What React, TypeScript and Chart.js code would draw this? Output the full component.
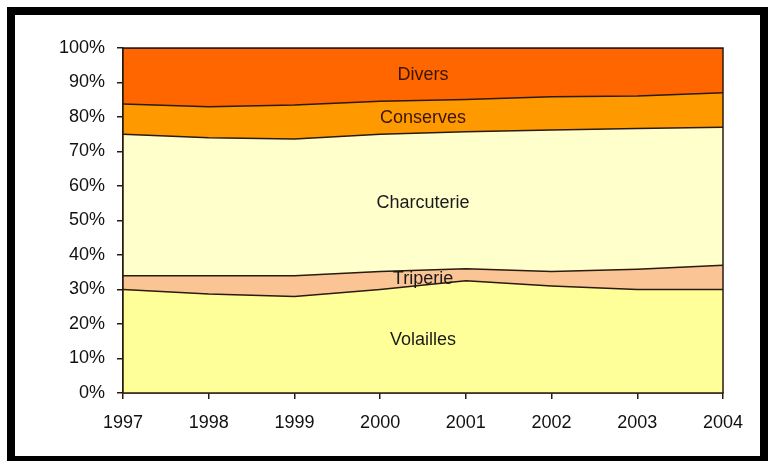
import React, { useEffect, useRef } from "react";
import { Chart, registerables } from "chart.js";

Chart.register(...registerables);

const years = ["1997", "1998", "1999", "2000", "2001", "2002", "2003", "2004"];
const seriesNames = ["Volailles", "Triperie", "Charcuterie", "Conserves", "Divers"];
const volailles = [30, 28.7, 28, 30, 32.5, 31, 30, 30];
const triperie = [4, 5.3, 6, 5.2, 3.5, 4.2, 5.9, 7];
const charcuterie = [41, 40, 39.6, 39.8, 39.7, 41, 40.8, 40];
const conserves = [8.8, 9, 9.9, 9.6, 9.4, 9.7, 9.4, 10];
const divers = [16.2, 17, 16.5, 15.4, 14.9, 14.1, 13.9, 13];
const seriesColors = ["#FFFF99", "#FAC495", "#FFFFCC", "#FF9900", "#FF6600"];

const FONT = "'Liberation Sans', Arial, sans-serif";
const FSIZE = 18;
const LINE = "#2b1a0e";

const bandLabels = {
  id: "bandLabels",
  afterDatasetsDraw(chart: any) {
    const { ctx, chartArea, scales } = chart;
    const y = scales.y;
    const all = chart.data.datasets.map((d: any) => d.data as number[]);
    const cx = (chartArea.left + chartArea.right) / 2;
    const cum = (i: number, idx: number) => {
      let s = 0;
      for (let k = 0; k <= i; k++) s += all[k][idx];
      return s;
    };
    ctx.save();
    ctx.strokeStyle = LINE;
    ctx.lineWidth = 1.5;
    ctx.strokeRect(chartArea.left, chartArea.top, chartArea.right - chartArea.left, chartArea.bottom - chartArea.top);
    ctx.font = `${FSIZE}px ${FONT}`;
    ctx.textAlign = "center";
    ctx.textBaseline = "middle";
    chart.data.datasets.forEach((d: any, i: number) => {
      const top = (cum(i, 3) + cum(i, 4)) / 2;
      const bot = i === 0 ? 0 : (cum(i - 1, 3) + cum(i - 1, 4)) / 2;
      const mid = (top + bot) / 2;
      ctx.fillStyle = i >= 3 ? "#3a1504" : "#1a1a1a";
      ctx.fillText(d.label, cx, y.getPixelForValue(mid) + 1);
    });
    ctx.restore();
  },
};

export default function App() {
  const ref = useRef<HTMLCanvasElement>(null);
  useEffect(() => {
    const values = [volailles, triperie, charcuterie, conserves, divers];
    const chart = new Chart(ref.current!, {
      type: "line",
      data: {
        labels: years,
        datasets: seriesNames.map((name, i) => ({
          label: name,
          data: values[i],
          backgroundColor: seriesColors[i],
          borderColor: LINE,
          borderWidth: 1.5,
          pointRadius: 0,
          tension: 0,
          fill: i === 0 ? "origin" : "-1",
        })),
      },
      options: {
        responsive: false,
        animation: false,
        layout: { padding: { top: 33, right: 37, left: 0, bottom: 0 } },
        plugins: { legend: { display: false }, tooltip: { enabled: false } },
        scales: {
          x: {
            type: "category",
            offset: false,
            grid: { display: true, drawOnChartArea: false, drawTicks: true, tickLength: 6, color: LINE, lineWidth: 1.5 },
            border: { display: true, color: LINE, width: 1.5 },
            ticks: { color: "#111", font: { family: FONT, size: FSIZE }, padding: 13, maxRotation: 0, autoSkip: false },
            afterFit: (s: any) => { s.height = 63; },
          },
          y: {
            stacked: true,
            min: 0,
            max: 100,
            grid: { display: true, drawOnChartArea: false, drawTicks: true, tickLength: 6, color: LINE, lineWidth: 1.5 },
            border: { display: true, color: LINE, width: 1.5 },
            ticks: {
              stepSize: 10,
              color: "#111",
              font: { family: FONT, size: FSIZE },
              padding: 12,
              callback: (v: any) => v + "%",
            },
            afterFit: (s: any) => { s.width = 108; },
          },
        },
      },
      plugins: [bandLabels],
    });
    return () => chart.destroy();
  }, []);
  return (
    <div
      style={{
        position: "fixed",
        left: 7,
        top: 7,
        width: 761,
        height: 454,
        boxSizing: "border-box",
        borderStyle: "solid",
        borderColor: "#000",
        borderWidth: "8px 8px 5px 8px",
        background: "#fff",
      }}
    >
      <canvas ref={ref} width={745} height={441} style={{ display: "block" }} />
    </div>
  );
}
